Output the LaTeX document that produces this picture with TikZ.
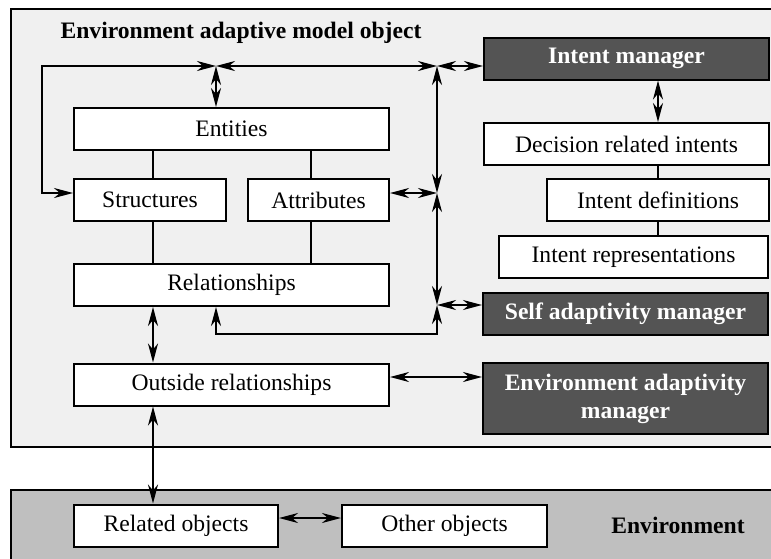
\documentclass[tikz,border=0pt]{standalone}
\usepackage{fontspec}
\setmainfont{Liberation Serif}
\usetikzlibrary{arrows.meta}
\tikzset{
    mybox/.style = {rectangle, line width=1pt, draw=black, align=center, fill=white, inner sep=0pt, minimum height=21pt, font=\fontsize{11.8}{14}\selectfont, text=black},
    myboxd/.style = {rectangle, line width=1pt, draw=black, align=center, fill=black!67, inner sep=0pt, minimum height=21pt, font=\fontsize{11.8}{14}\selectfont\bfseries, text=white},
    mytitle/.style = {font=\fontsize{11.8}{14}\selectfont\bfseries, text=black},
    panel/.style = {line width=1pt, draw=black, fill=gray!12},
    panele/.style = {line width=1pt, draw=black, fill=gray!50},
    edgen/.style = {-, line width=1pt, black},
    edgeb/.style = {{Stealth[length=9.5pt,width=5pt,inset=3pt]}-{Stealth[length=9.5pt,width=5pt,inset=3pt]}, line width=1pt, black}
}

\begin{document}
\begin{tikzpicture}[x=0.5pt,y=-0.5pt]
\clip (0,0) rectangle (771,558);
\fill[white] (0,0) rectangle (771,558);
\draw[panel] (11,9) rectangle (800,447);
\draw[panele] (11,490) rectangle (800,580);
%
\node[mytitle] at (241,33) (title) {Environment adaptive model object};
\node[mytitle] at (678,525.5) (envtitle) {Environment};
%
\node[mybox, minimum width=157.5pt] at (231.5,129) (entities) {Entities};
\node[mybox, minimum width=76pt] at (150,200) (structures) {Structures};
\node[mybox, minimum width=70.5pt] at (318.5,200) (attributes) {Attributes};
\node[mybox, minimum width=157.5pt] at (231.5,285) (relationships) {Relationships};
\node[mybox, minimum width=157.5pt] at (231.5,384.5) (outside) {Outside relationships};
%
\node[myboxd, minimum width=142.5pt] at (626.5,58.5) (intentmgr) {Intent manager};
\node[mybox, minimum width=142.5pt] at (626.5,144) (decision) {Decision related intents};
\node[mybox, minimum width=111pt] at (658,200) (definitions) {Intent definitions};
\node[mybox, minimum width=134.5pt] at (633.5,257) (representations) {Intent representations};
\node[myboxd, minimum width=142.5pt] at (625.5,313.5) (selfmgr) {Self adaptivity manager};
\node[myboxd, minimum width=142.5pt, minimum height=35.5pt] at (625.5,398.5) (envmgr) {Environment adaptivity\\manager};
%
\node[mybox, minimum width=102pt] at (176,525.5) (related) {Related objects};
\node[mybox, minimum width=102.5pt] at (444.5,525.5) (other) {Other objects};
%
\coordinate (j1) at (216,66);
\coordinate (j2) at (437,66);
\coordinate (j3) at (437,193);
\coordinate (j4) at (437,305);
\coordinate (lt) at (42,66);
\coordinate (lb) at (42,193);
\coordinate (br) at (437,334);
\coordinate (bl) at (216,334);
\coordinate (c1) at (153,0);
\coordinate (c2) at (311,0);
\coordinate (r1) at (0,377);
\coordinate (r2) at (0,518);
%
\draw[edgen] (entities.south -| c1) -- (structures.north -| c1);
\draw[edgen] (entities.south -| c2) -- (attributes.north -| c2);
\draw[edgen] (structures.south -| c1) -- (relationships.north -| c1);
\draw[edgen] (attributes.south -| c2) -- (relationships.north -| c2);
\draw[edgen] (decision.south -| definitions) -- (definitions.north);
\draw[edgen] (definitions.south) -- (representations.north -| definitions);
%
\draw[edgeb] (j1) -- (lt) -- (lb) -- (structures.west |- lb);
\draw[edgeb] (j2) -- (j1);
\draw[edgeb] (j1) -- (entities.north -| j1);
\draw[edgeb] (j2) -- (intentmgr.west |- j2);
\draw[edgeb] (j2) -- (j3);
\draw[edgeb] (attributes.east |- j3) -- (j3);
\draw[edgeb] (j3) -- (j4);
\draw[edgeb] (j4) -- (selfmgr.west |- j4);
\draw[edgeb] (j4) -- (br) -- (bl) -- (relationships.south -| bl);
\draw[edgeb] (intentmgr.south -| definitions) -- (decision.north -| definitions);
\draw[edgeb] (relationships.south -| c1) -- (outside.north -| c1);
\draw[edgeb] (outside.east |- r1) -- (envmgr.west |- r1);
\draw[edgeb] (outside.south -| c1) -- (related.north -| c1);
\draw[edgeb] (related.east |- r2) -- (other.west |- r2);
\end{tikzpicture}
\end{document}
